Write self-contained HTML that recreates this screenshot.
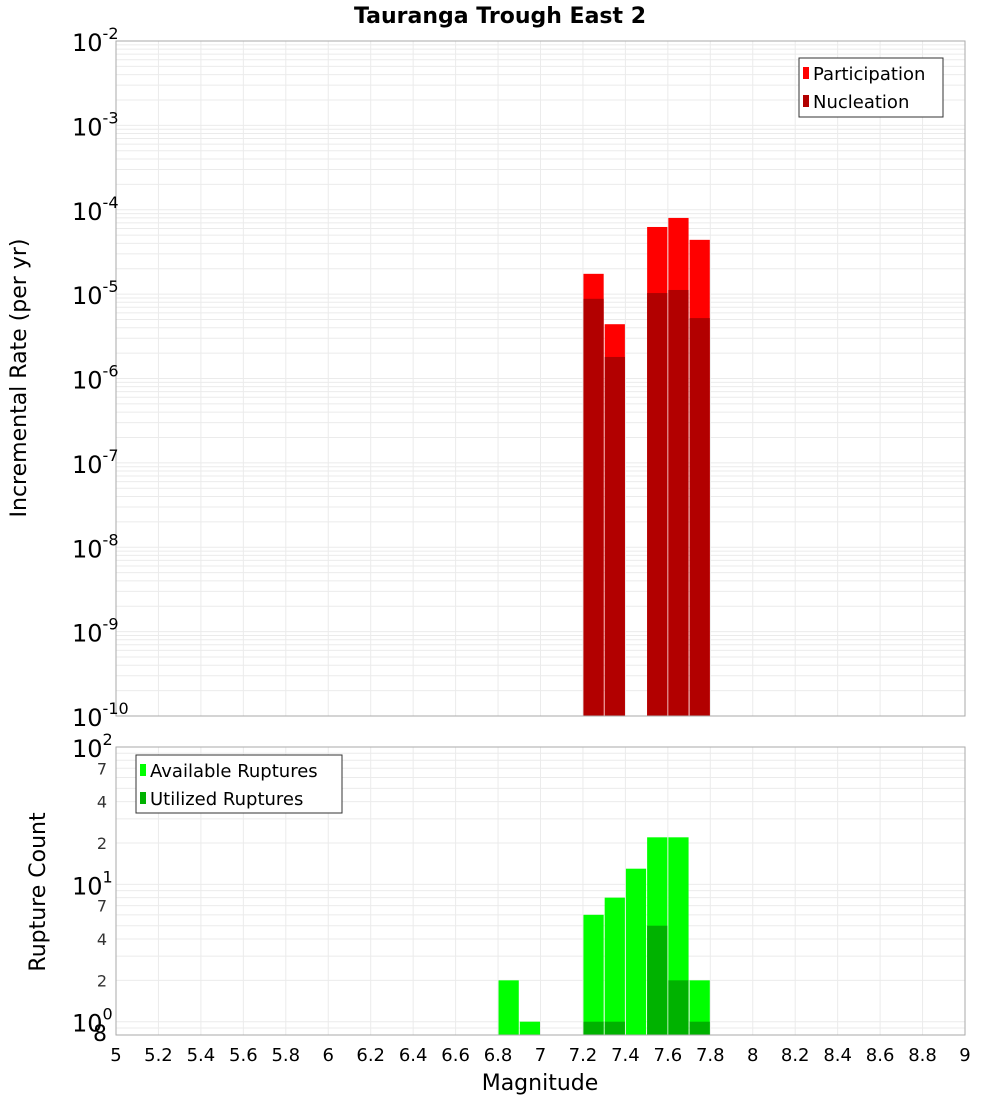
<!DOCTYPE html>
<html><head><meta charset="utf-8"><style>
body{margin:0;background:#fff;font-family:"DejaVu Sans","Liberation Sans",sans-serif}
svg{display:block}
</style></head><body>
<svg id="c" width="1000" height="1100" xmlns="http://www.w3.org/2000/svg">
<text x="500" y="23" text-anchor="middle" font-size="22" font-weight="bold">Tauranga Trough East 2</text>
<g id="topg"></g>
<g id="botg"></g>
</svg>
<script>
const binStarts=[7.2,7.3,7.5,7.6,7.7];
const participation=[1.74e-5,4.4e-6,6.25e-5,8.0e-5,4.4e-5];
const nucleation=[8.8e-6,1.8e-6,1.03e-5,1.12e-5,5.2e-6];
const countBins=[6.8,6.9,7.2,7.3,7.4,7.5,7.6,7.7];
const available=[2,1,6,8,13,22,22,2];
const utilized=[0,0,1,1,0,5,2,1];
const xTicks=[5,5.2,5.4,5.6,5.8,6,6.2,6.4,6.6,6.8,7,7.2,7.4,7.6,7.8,8,8.2,8.4,8.6,8.8,9];
const topExps=[-2,-3,-4,-5,-6,-7,-8,-9,-10];
const NS="http://www.w3.org/2000/svg";
function el(p,t,a,txt){const e=document.createElementNS(NS,t);for(const k in a)e.setAttribute(k,a[k]);if(txt!==undefined)e.textContent=txt;p.appendChild(e);return e;}
const X0=116,X1=965;
const xs=v=>X0+(v-5)/4*(X1-X0);
const T0=41,T1=716;
const ys=v=>T0+(-2-Math.log10(v))/8*(T1-T0);
const topG=document.getElementById('topg');
let r=el(topG,'rect',{x:X0,y:T0,width:X1-X0,height:T1-T0,fill:'#fff'});


for(let e=-10;e<-2;e++)for(let m=1;m<10;m++){const y=ys(m*Math.pow(10,e));el(topG,'line',{x1:X0,x2:X1,y1:y,y2:y,stroke:'#ebebeb','stroke-width':1});}
xTicks.forEach(t=>{const x=xs(t);el(topG,'line',{x1:x,x2:x,y1:T0,y2:T1,stroke:'#ebebeb'});});
binStarts.forEach((b,i)=>{
 const x=xs(b)+0.5,w=xs(b+0.1)-xs(b)-1;
 let a=el(topG,'rect',{x:x,y:ys(participation[i]),width:w,height:T1-ys(participation[i]),fill:'#ff0000'});
 
 
 let n=el(topG,'rect',{x:x,y:ys(nucleation[i]),width:w,height:T1-ys(nucleation[i]),fill:'#b20000'});
 
 
});
el(topG,'rect',{x:X0,y:T0,width:X1-X0,height:T1-T0,fill:'none',stroke:'#aaa'});
topExps.forEach(e=>{const y=ys(Math.pow(10,e));
 const t=el(topG,'text',{x:72,y:y+10,'font-size':24});
 
 
 el(t,'tspan',{},'10');el(t,'tspan',{dy:-12,'font-size':16},String(e));});
let yt=el(topG,'text',{x:26,y:378,'font-size':22,'text-anchor':'middle',transform:'rotate(-90 26 378)'},'Incremental Rate (per yr)');


let lg=el(topG,'g',{});


el(lg,'rect',{x:799,y:58,width:144,height:59,fill:'#fff',stroke:'#333'});
el(lg,'rect',{x:803,y:67,width:6,height:12,fill:'#ff0000'});
el(lg,'text',{x:813,y:80,'font-size':18},'Participation');
el(lg,'rect',{x:803,y:95,width:6,height:12,fill:'#b20000'});
el(lg,'text',{x:813,y:108,'font-size':18},'Nucleation');
const B0=747,B1=1035;
const yb=v=>B0+(2-Math.log10(v))/Math.log10(100/0.8)*(B1-B0);
const botG=document.getElementById('botg');
el(botG,'rect',{x:X0,y:B0,width:X1-X0,height:B1-B0,fill:'#fff'});
[0.8,0.9,1,2,3,4,5,6,7,8,9,10,20,30,40,50,60,70,80,90].forEach(v=>{const y=yb(v);el(botG,'line',{x1:X0,x2:X1,y1:y,y2:y,stroke:'#ebebeb'});});
xTicks.forEach(t=>{const x=xs(t);el(botG,'line',{x1:x,x2:x,y1:B0,y2:B1,stroke:'#ebebeb'});});
countBins.forEach((b,i)=>{
 const x=xs(b)+0.5,w=xs(b+0.1)-xs(b)-1;
 let a=el(botG,'rect',{x:x,y:yb(available[i]),width:w,height:B1-yb(available[i]),fill:'#00ff00'});
 
 
 if(utilized[i]>0){let u=el(botG,'rect',{x:x,y:yb(utilized[i]),width:w,height:B1-yb(utilized[i]),fill:'#00b200'});
 
 }
});
el(botG,'rect',{x:X0,y:B0,width:X1-X0,height:B1-B0,fill:'none',stroke:'#aaa'});
[[100,'2'],[10,'1'],[1,'0']].forEach(([v,e])=>{const y=yb(v);
 const t=el(botG,'text',{x:72,y:y+10,'font-size':24});
 
 
 el(t,'tspan',{},'10');el(t,'tspan',{dy:-12,'font-size':16},e);});
[[70,'7'],[40,'4'],[20,'2'],[7,'7'],[4,'4'],[2,'2'],[0.8,'8']].forEach(([v,s])=>{
 const t=el(botG,'text',{x:107,y:yb(v)+6,'font-size':v==0.8?22:16,'text-anchor':'end','fill':v==0.8?'#000':'#333'},s);
 
 });
let yt2=el(botG,'text',{x:45,y:892,'font-size':22,'text-anchor':'middle',transform:'rotate(-90 45 892)'},'Rupture Count');


xTicks.forEach(t=>{const tx=el(botG,'text',{x:xs(t),y:1061,'font-size':18,'text-anchor':'middle'},String(t));
 
 });
let xt=el(botG,'text',{x:540,y:1090,'font-size':22,'text-anchor':'middle'},'Magnitude');


let lg2=el(botG,'g',{});


el(lg2,'rect',{x:136,y:755,width:206,height:58,fill:'#fff',stroke:'#333'});
el(lg2,'rect',{x:140,y:764,width:6,height:12,fill:'#00ff00'});
el(lg2,'text',{x:150,y:777,'font-size':18},'Available Ruptures');
el(lg2,'rect',{x:140,y:792,width:6,height:12,fill:'#00b200'});
el(lg2,'text',{x:150,y:805,'font-size':18},'Utilized Ruptures');
</script>
</body></html>
